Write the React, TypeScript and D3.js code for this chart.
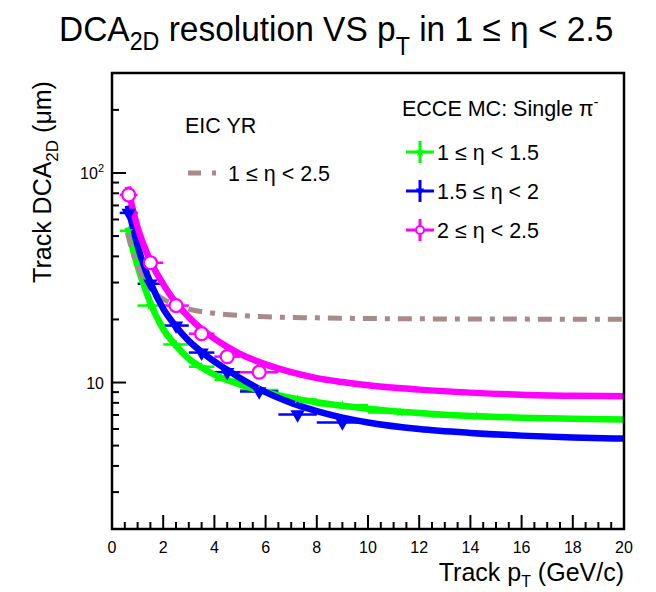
import * as d3 from "d3";

// bins (pT, GeV/c)
const binLow = [0.3, 1, 2, 3, 4, 5, 6.5, 8, 10, 12.5];
const binHigh = [1, 2, 3, 4, 5, 6.5, 8, 10, 12.5, 16];
const binCenter = [0.65, 1.5, 2.5, 3.5, 4.5, 5.75, 7.25, 9, 11.25, 14.25];

// measured points (um)
const greenPts = [53, 23.3, 15.2, 11.9, 10.3, 9.2, 8.3, 7.8, 7.2, 6.9];
const bluePts = [64.5, 29.6, 18.7, 13.9, 11.2, 9.06, 7.04, 6.45];
const magentaPts = [78.6, 37.3, 23.3, 17.1, 13.3, 11.2];

// fitted curves: [pT, DCA]
const curvePt = [0.62, 0.8, 1, 1.25, 1.5, 2, 2.5, 3, 3.5, 4, 4.5, 5, 6, 7, 8, 9, 10, 12, 14, 16, 18, 20];
const greenFit = [55, 44, 36, 29, 24, 18, 15, 13, 11.8, 10.9, 10.3, 9.8, 9.0, 8.45, 8.05, 7.75, 7.5, 7.15, 6.92, 6.8, 6.72, 6.66];
const blueFit = [70, 56, 45, 36, 30, 22.5, 18.5, 15.8, 14, 12.6, 11.5, 10.5, 9.0, 8.0, 7.3, 6.8, 6.45, 6.0, 5.75, 5.58, 5.47, 5.4];
const magentaFit = [86, 68, 55, 45, 38, 29.5, 24, 20.5, 18, 16.2, 14.8, 13.7, 12.2, 11.2, 10.5, 10.05, 9.7, 9.25, 8.95, 8.75, 8.65, 8.6];

// EIC yellow report requirement
const yrPt = [0.6, 0.8, 1, 1.25, 1.5, 2, 2.5, 3, 4, 5, 6, 8, 10, 14, 20];
const yrVal = [52, 42, 36, 31, 28, 25, 23.4, 22.4, 21.4, 20.9, 20.6, 20.35, 20.2, 20.1, 20.05];

const xTicks = [0, 2, 4, 6, 8, 10, 12, 14, 16, 18, 20];

const GREEN = "#00ff00";
const BLUE = "#0000ff";
const MAGENTA = "#ff00ff";
const BROWN = "#a78a8a";
const FONT = "'Liberation Sans', Arial, Helvetica, sans-serif";

const W = 656, H = 592;
const L = 112, R = 624, T = 73, B = 529;

export default function App() {
  const x = d3.scaleLinear([0, 20], [L, R]);
  const y = d3.scaleLog([2, 300], [B, T]);
  const line = d3.line<[number, number]>()
    .x((d) => x(d[0]))
    .y((d) => y(d[1]))
    .curve(d3.curveMonotoneX);
  const fit = (vals: number[]) => line(vals.map((v, i) => [curvePt[i], v] as [number, number]));

  const xMinor = d3.range(0, 20.01, 0.5);
  const yMinor = [3, 4, 5, 6, 7, 8, 9, 20, 30, 40, 50, 60, 70, 80, 90, 200, 300];

  const star = d3.symbol(d3.symbolStar, 30)();
  const tri = d3.symbol(d3.symbolTriangle, 90)();

  const hbars = (vals: number[], color: string) =>
    vals.map((v, i) => (
      <line key={i} x1={x(binLow[i])} x2={x(binHigh[i])} y1={y(v)} y2={y(v)} stroke={color} strokeWidth={2.5} />
    ));

  return (
    <svg width={W} height={H} style={{ position: "absolute", left: 0, top: 0, background: "#fff" }} fontFamily={FONT}>
      <defs>
        <clipPath id="plot">
          <rect x={L} y={T} width={R - L} height={B - T} />
        </clipPath>
      </defs>

      {/* title */}
      <text transform={`translate(59,41) scale(0.93,1)`} fontSize={36} fill="#000">
        DCA<tspan dy={9} fontSize={25}>2D</tspan>
        <tspan dy={-9}> resolution VS p</tspan>
        <tspan dy={14} fontSize={25}>T</tspan>
        <tspan dy={-14}> in 1 ≤ η &lt; 2.5</tspan>
      </text>

      <g clipPath="url(#plot)">
        {hbars(greenPts, GREEN)}
        {hbars(bluePts, BLUE)}
        {hbars(magentaPts, MAGENTA)}

        <path d={fit(greenFit) ?? ""} fill="none" stroke={GREEN} strokeWidth={6.5} />
        <path
          d={line(yrPt.map((p, i) => [p, yrVal[i]] as [number, number])) ?? ""}
          fill="none" stroke={BROWN} strokeWidth={5} strokeDasharray="14 8 5 8"
        />
        <path d={fit(blueFit) ?? ""} fill="none" stroke={BLUE} strokeWidth={6.5} />
        <path d={fit(magentaFit) ?? ""} fill="none" stroke={MAGENTA} strokeWidth={6.5} />

        {greenPts.map((v, i) => (
          <path key={"g" + i} d={star ?? ""} transform={`translate(${x(binCenter[i])},${y(v)})`} fill={GREEN} />
        ))}
        {bluePts.map((v, i) => (
          <path key={"b" + i} d={tri ?? ""} transform={`translate(${x(binCenter[i])},${y(v)}) rotate(180)`} fill={BLUE} />
        ))}
        {magentaPts.map((v, i) => (
          <circle key={"m" + i} cx={x(binCenter[i])} cy={y(v)} r={6.5} fill="#fff" stroke={MAGENTA} strokeWidth={2.2} />
        ))}
      </g>

      {/* frame and ticks */}
      <rect x={L} y={T} width={R - L} height={B - T} fill="none" stroke="#000" strokeWidth={2.5} />
      {xMinor.map((v) => (
        <line key={"xt" + v} x1={x(v)} x2={x(v)} y1={B} y2={B - (v % 2 === 0 ? 14 : 7)} stroke="#000" strokeWidth={2} />
      ))}
      {[10, 100].map((v) => (
        <line key={"yM" + v} x1={L} x2={L + 14} y1={y(v)} y2={y(v)} stroke="#000" strokeWidth={2} />
      ))}
      {yMinor.map((v) => (
        <line key={"ym" + v} x1={L} x2={L + 7} y1={y(v)} y2={y(v)} stroke="#000" strokeWidth={2} />
      ))}
      {xTicks.map((v) => (
        <text key={"xl" + v} x={x(v)} y={553} textAnchor="middle" fontSize={16}>{v}</text>
      ))}
      <text x={104} y={y(10) + 6} textAnchor="end" fontSize={16}>10</text>
      <text x={104} y={y(100) + 6} textAnchor="end" fontSize={16}>
        10<tspan dy={-7} fontSize={11}>2</tspan>
      </text>

      {/* axis titles */}
      <text x={R} y={581} textAnchor="end" fontSize={25}>
        Track p<tspan dy={6} fontSize={16}>T</tspan>
        <tspan dy={-6}> (GeV/c)</tspan>
      </text>
      <text transform={`translate(51,182) rotate(-90)`} textAnchor="middle" fontSize={25}>
        Track DCA<tspan dy={7} fontSize={17}>2D</tspan>
        <tspan dy={-7}> (μm)</tspan>
      </text>

      {/* EIC YR legend */}
      <text x={185} y={133} fontSize={21.5}>EIC YR</text>
      <line x1={188} x2={216} y1={173} y2={173} stroke={BROWN} strokeWidth={5} strokeDasharray="13 11 4 20" />
      <text x={228} y={181} fontSize={21.5}>1 ≤ η &lt; 2.5</text>

      {/* ECCE legend */}
      <text x={402} y={116} fontSize={21.5}>
        ECCE MC: Single π<tspan dy={-9} fontSize={14}>-</tspan>
      </text>
      {[
        { c: GREEN, label: "1 ≤ η < 1.5", cy: 152, m: "star" },
        { c: BLUE, label: "1.5 ≤ η < 2", cy: 191, m: "tri" },
        { c: MAGENTA, label: "2 ≤ η < 2.5", cy: 230, m: "circ" },
      ].map((e) => (
        <g key={e.label}>
          <line x1={406} x2={434} y1={e.cy} y2={e.cy} stroke={e.c} strokeWidth={3} />
          <line x1={420} x2={420} y1={e.cy - 11} y2={e.cy + 11} stroke={e.c} strokeWidth={3} />
          {e.m === "star" && <path d={star ?? ""} transform={`translate(420,${e.cy})`} fill={e.c} />}
          {e.m === "tri" && <path d={d3.symbol(d3.symbolTriangle, 30)() ?? ""} transform={`translate(420,${e.cy}) rotate(180)`} fill={e.c} />}
          {e.m === "circ" && <circle cx={420} cy={e.cy} r={4} fill="#fff" stroke={e.c} strokeWidth={2} />}
          <text x={437} y={e.cy + 8} fontSize={21.5}>{e.label}</text>
        </g>
      ))}
    </svg>
  );
}
